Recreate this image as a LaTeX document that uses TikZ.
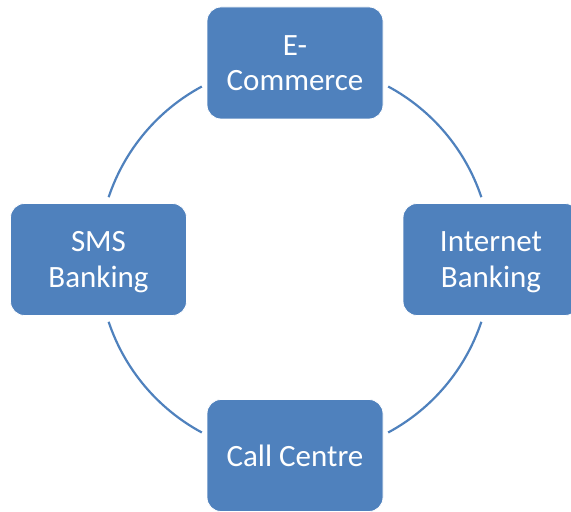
\documentclass[tikz,border=0pt]{standalone}
\usepackage{fontspec}
\setmainfont{Carlito}
\definecolor{boxblue}{HTML}{4F81BD}
\begin{document}
\begin{tikzpicture}[x=1pt,y=1pt,
  box/.style={fill=boxblue, draw=white, line width=0.8pt, rounded corners=14pt,
    minimum width=176pt, minimum height=112pt, text=white, align=center,
    font=\fontsize{31}{35.5}\selectfont, inner sep=0pt},
  ring/.style={draw=boxblue, line width=2.2pt}]
\useasboundingbox (0,0) rectangle (571,512);
\clip (0,0) rectangle (571,512);
\coordinate (c) at (295,252.5);
\draw[ring] ([shift={(18.5:196.5)}]c) arc (18.5:61.7:196.5);
\draw[ring] ([shift={(118.3:196.5)}]c) arc (118.3:161.5:196.5);
\draw[ring] ([shift={(198.5:196.5)}]c) arc (198.5:241.7:196.5);
\draw[ring] ([shift={(298.3:196.5)}]c) arc (298.3:341.5:196.5);
\node[box] (ecom) at (295,449) {E-\\Commerce};
\node[box] (inet) at (491,252.5) {Internet\\\smash{Banking}};
\node[box] (call) at (295,56.5) {Call Centre};
\node[box] (sms) at (98.5,252.5) {SMS\\\smash{Banking}};
\end{tikzpicture}
\end{document}
